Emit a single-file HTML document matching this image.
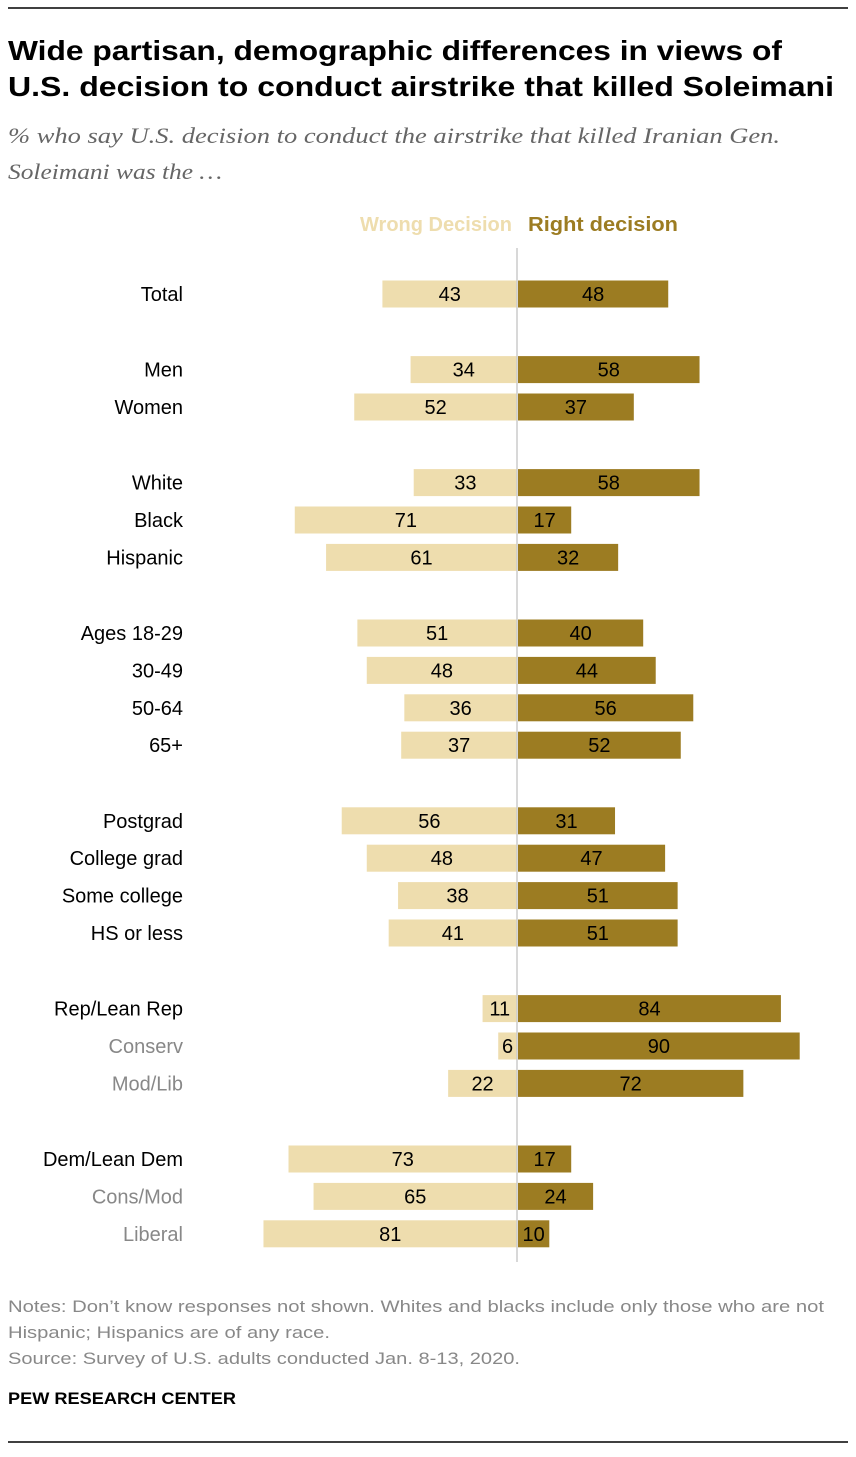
<!DOCTYPE html>
<html><head><meta charset="utf-8">
<style>
body{margin:0;background:#fff;width:856px;height:1452px;overflow:hidden;font-family:"Liberation Sans",Arial,sans-serif;}
svg text{font-family:"Liberation Sans",Arial,sans-serif;}
</style></head>
<body>
<svg width="856" height="1452" viewBox="0 0 856 1452">
<line x1="8" y1="8" x2="848" y2="8" stroke="#000" stroke-width="1.5"/>
<text x="8" y="60" font-size="28" font-weight="bold" fill="#000" textLength="774" lengthAdjust="spacingAndGlyphs">Wide partisan, demographic differences in views of</text>
<text x="8" y="96" font-size="28" font-weight="bold" fill="#000" textLength="826" lengthAdjust="spacingAndGlyphs">U.S. decision to conduct airstrike that killed Soleimani</text>
<text x="8" y="143" font-size="22" font-style="italic" fill="#666" textLength="772" lengthAdjust="spacingAndGlyphs" style="font-family:'Liberation Serif',serif">% who say U.S. decision to conduct the airstrike that killed Iranian Gen.</text>
<text x="8" y="179" font-size="22" font-style="italic" fill="#666" textLength="214" lengthAdjust="spacingAndGlyphs" style="font-family:'Liberation Serif',serif">Soleimani was the …</text>
<text x="360" y="231" font-size="20" font-weight="bold" fill="#EEDDAE" textLength="152" lengthAdjust="spacingAndGlyphs">Wrong Decision</text>
<text x="528" y="231" font-size="20" font-weight="bold" fill="#9C7C22" textLength="150" lengthAdjust="spacingAndGlyphs">Right decision</text>
<g id="bars"></g>
<line x1="517" y1="248" x2="517" y2="1262" stroke="#ccc" stroke-width="1.5"/>
<text x="8" y="1312" font-size="17" fill="#888" textLength="816" lengthAdjust="spacingAndGlyphs">Notes: Don’t know responses not shown. Whites and blacks include only those who are not</text>
<text x="8" y="1338" font-size="17" fill="#888" textLength="322" lengthAdjust="spacingAndGlyphs">Hispanic; Hispanics are of any race.</text>
<text x="8" y="1364" font-size="17" fill="#888" textLength="512" lengthAdjust="spacingAndGlyphs">Source: Survey of U.S. adults conducted Jan. 8-13, 2020.</text>
<text x="8" y="1404" font-size="17" font-weight="bold" fill="#000" textLength="228" lengthAdjust="spacingAndGlyphs">PEW RESEARCH CENTER</text>
<line x1="8" y1="1442" x2="848" y2="1442" stroke="#000" stroke-width="1.5"/>
</svg>
<script>
const categories=["Total","Men","Women","White","Black","Hispanic","Ages 18-29","30-49","50-64","65+","Postgrad","College grad","Some college","HS or less","Rep/Lean Rep","Conserv","Mod/Lib","Dem/Lean Dem","Cons/Mod","Liberal"];
const wrongValues=[43,34,52,33,71,61,51,48,36,37,56,48,38,41,11,6,22,73,65,81];
const rightValues=[48,58,37,58,17,32,40,44,56,52,31,47,51,51,84,90,72,17,24,10];
const subgroup=[false,false,false,false,false,false,false,false,false,false,false,false,false,false,false,true,true,false,true,true];
const groups=[0,1,1,2,2,2,3,3,3,3,4,4,4,4,5,5,5,6,6,6];
const NS="http://www.w3.org/2000/svg";
const g=document.getElementById("bars");
const cx=517, k=3.13;
function xs(v){return v*k;}
function yc(i){return 294+i*37.4+groups[i]*38.2;}
function mk(t,a){const e=document.createElementNS(NS,t);for(const n in a)e.setAttribute(n,a[n]);g.appendChild(e);return e;}
categories.forEach((c,i)=>{
  const y=yc(i);
  const l=mk("text",{x:183,y:y+7,"font-size":20,"text-anchor":"end",fill:subgroup[i]?"#888":"#000"});
  l.textContent=c;
  
  
  const w=xs(wrongValues[i]);
  const rw=mk("rect",{x:cx-w,y:y-13.5,width:w,height:27,fill:"#EEDDAE"});
  
  
  const r=xs(rightValues[i]);
  const rr=mk("rect",{x:cx+1,y:y-13.5,width:r,height:27,fill:"#9C7C22"});
  
  
  const tw=mk("text",{x:cx-w/2,y:y+7,"font-size":20,"text-anchor":"middle",fill:"#000"});
  tw.textContent=wrongValues[i];
  
  
  const tr=mk("text",{x:cx+1+r/2,y:y+7,"font-size":20,"text-anchor":"middle",fill:"#000"});
  tr.textContent=rightValues[i];
  
  
});
</script>
</body></html>
